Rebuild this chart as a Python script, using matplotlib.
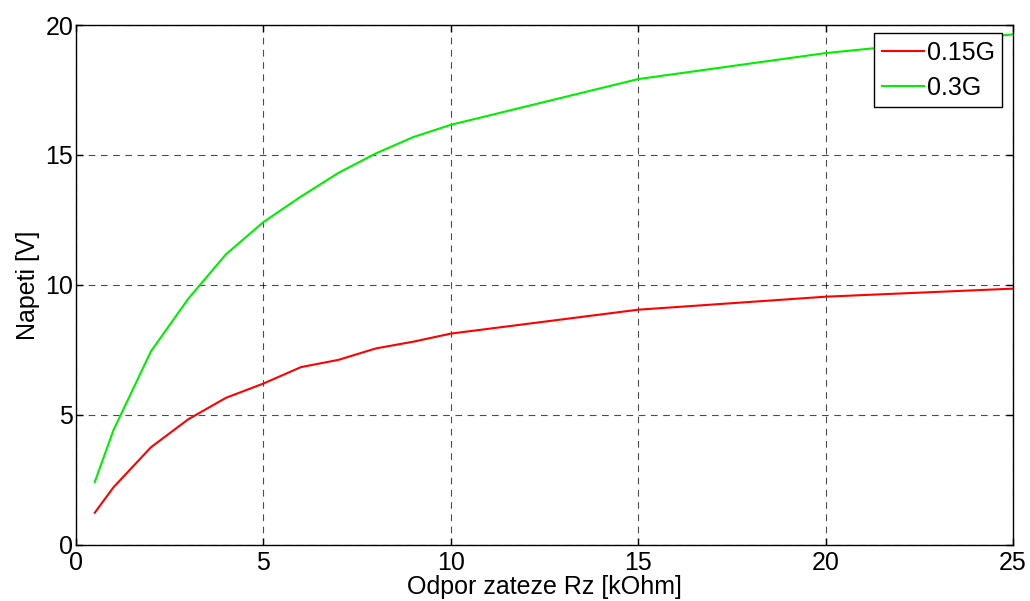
import matplotlib
matplotlib.use("Agg")
import matplotlib.pyplot as plt

plt.rcParams['font.family'] = ['Liberation Sans', 'DejaVu Sans']

x_kohm = [0.5, 1, 2, 3, 4, 5, 6, 7, 8, 9, 10, 15, 20, 25]
v_015g = [1.24, 2.22, 3.76, 4.84, 5.66, 6.21, 6.84, 7.12, 7.56, 7.82, 8.13, 9.05, 9.55, 9.86]
v_03g = [2.42, 4.42, 7.45, 9.48, 11.18, 12.42, 13.40, 14.31, 15.06, 15.69, 16.16, 17.92, 18.92, 19.64]
x_ticks = [0, 5, 10, 15, 20, 25]
y_ticks = [0, 5, 10, 15, 20]

fig = plt.figure(figsize=(10.30, 6.01), dpi=100)
ax = fig.add_axes([0.0738, 0.0932, 0.9097, 0.8652])

ax.plot(x_kohm, v_015g, color='#ff0000', lw=1.5, label='0.15G')
ax.plot(x_kohm, v_03g, color='#00ee00', lw=1.5, label='0.3G')

ax.set_xlim(0, 25)
ax.set_ylim(0, 20)
ax.set_xticks(x_ticks)
ax.set_yticks(y_ticks)
ax.tick_params(axis='both', direction='in', top=True, right=True, labelsize=18, length=5, width=1)
ax.tick_params(axis='y', pad=2)
ax.tick_params(axis='x', pad=4)
ax.grid(True, color='black', linestyle=(0, (6, 5)), linewidth=0.8, alpha=0.7)
for s in ax.spines.values():
    s.set_linewidth(1.0)

ax.set_xlabel('Odpor zateze Rz [kOhm]', fontsize=18, labelpad=0)
ax.set_ylabel('Napeti [V]', fontsize=18, labelpad=4)

leg = ax.legend(loc='upper right', fontsize=18, fancybox=False, framealpha=1,
                edgecolor='black', borderaxespad=0.0, handlelength=1.7,
                handletextpad=0.1, borderpad=0.3, labelspacing=0.45,
                bbox_to_anchor=(0.9883, 0.9846))
leg.get_frame().set_linewidth(1.0)

fig.savefig('out.png', dpi=100)
